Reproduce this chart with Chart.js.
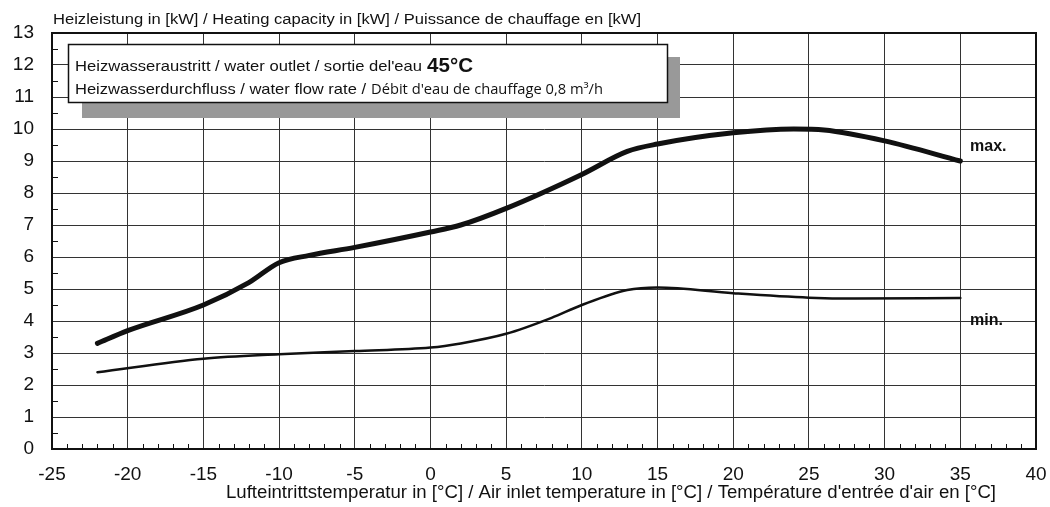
<!DOCTYPE html>
<html>
<head>
<meta charset="utf-8">
<script src="https://cdn.jsdelivr.net/npm/chart.js@4"></script>
<style>
  html, body { margin:0; padding:0; background:#fff; }
  #wrap { width:1050px; height:507px; }
</style>
</head>
<body>
<div id="wrap"><canvas id="chart" width="1050" height="507"></canvas></div>
<script>
const maxTemp = [-22, -20, -15, -12, -10, -8, -5, 0, 2, 5, 10, 13, 15, 20, 24, 26, 30, 35];
const maxKw   = [3.3, 3.7, 4.5, 5.2, 5.82, 6.05, 6.3, 6.78, 7.0, 7.52, 8.58, 9.3, 9.53, 9.88, 10.0, 9.97, 9.63, 9.0];
const minTemp = [-22, -15, -10, -5, 0, 2, 5, 8, 10, 13, 15, 20, 25, 28, 35];
const minKw   = [2.4, 2.82, 2.96, 3.06, 3.17, 3.3, 3.6, 4.1, 4.5, 4.97, 5.05, 4.87, 4.73, 4.7, 4.72];
const xTicks = [-25, -20, -15, -10, -5, 0, 5, 10, 15, 20, 25, 30, 35, 40];
const yTicks = [0, 1, 2, 3, 4, 5, 6, 7, 8, 9, 10, 11, 12, 13];

const FONT = '"Liberation Sans", Arial, sans-serif';
const HUMAN = '"Open Sans", "Noto Sans", sans-serif';

function pts(xs, ys){ return xs.map((x,i)=>({x, y: ys[i]})); }

// draw text squeezed/stretched horizontally so it spans x0..x1
function fitText(ctx, text, x0, x1, y){
  const w = ctx.measureText(text).width;
  ctx.save();
  ctx.translate(x0, y);
  ctx.scale((x1 - x0) / w, 1);
  ctx.textAlign = 'left';
  ctx.fillText(text, 0, 0);
  ctx.restore();
}

// extra drawing: minor ticks, frame, info box, titles, curve labels
const decorations = {
  id: 'decorations',
  afterDraw(chart){
    const ctx = chart.ctx;
    const xs = chart.scales.x, ys = chart.scales.y;
    const a = chart.chartArea;
    ctx.save();
    ctx.strokeStyle = '#111';
    ctx.lineWidth = 1;
    // minor ticks
    ctx.beginPath();
    for (let v = 0.5; v < 13; v += 1) {
      const py = Math.round(ys.getPixelForValue(v)) + 0.5;
      ctx.moveTo(a.left, py); ctx.lineTo(a.left + 6, py);
    }
    for (let v = -24; v < 40; v++) {
      if (v % 5 === 0) continue;
      const px = Math.round(xs.getPixelForValue(v)) + 0.5;
      ctx.moveTo(px, a.bottom); ctx.lineTo(px, a.bottom - 5);
    }
    ctx.stroke();
    // frame
    ctx.lineWidth = 2;
    ctx.strokeStyle = '#111';
    ctx.strokeRect(a.left, a.top, a.right - a.left, a.bottom - a.top);

    // info box with shadow
    ctx.fillStyle = '#999';
    ctx.fillRect(82, 57, 598, 61);
    ctx.fillStyle = '#fff';
    ctx.fillRect(68, 44, 600, 59);
    ctx.lineWidth = 1.5;
    ctx.strokeStyle = '#111';
    ctx.strokeRect(68.5, 44.5, 599, 58);

    ctx.fillStyle = '#111';
    ctx.textBaseline = 'alphabetic';
    ctx.font = '15px ' + FONT;
    fitText(ctx, 'Heizwasseraustritt / water outlet / sortie del\'eau', 75, 422, 71);
    ctx.font = 'bold 20px ' + FONT;
    fitText(ctx, '45°C', 427, 473, 72);
    ctx.font = '15px ' + FONT;
    fitText(ctx, 'Heizwasserdurchfluss / water flow rate /', 75, 366, 94);
    ctx.font = '14px ' + HUMAN;
    fitText(ctx, 'Débit d\'eau de chauffage 0,8 m³/h', 371, 603, 94);

    // axis titles
    ctx.font = '14px ' + FONT;
    fitText(ctx, 'Heizleistung in [kW] / Heating capacity in [kW] / Puissance de chauffage en [kW]', 53, 641, 24);
    ctx.font = '17.5px ' + FONT;
    fitText(ctx, 'Lufteintrittstemperatur in [°C] / Air inlet temperature in [°C] / Température d\'entrée d\'air en [°C]', 226, 996, 498);

    // curve labels
    ctx.font = 'bold 16px ' + FONT;
    ctx.textAlign = 'left';
    ctx.fillText('max.', 970, 151);
    ctx.fillText('min.', 970, 325);
    ctx.restore();
  }
};

const ctx = document.getElementById('chart').getContext('2d');
new Chart(ctx, {
  type: 'line',
  data: {
    datasets: [
      { label: 'max.', data: pts(maxTemp, maxKw), borderColor: '#111', borderWidth: 5,
        pointRadius: 0, cubicInterpolationMode: 'monotone', borderCapStyle: 'round', fill: false },
      { label: 'min.', data: pts(minTemp, minKw), borderColor: '#111', borderWidth: 2.5,
        pointRadius: 0, cubicInterpolationMode: 'monotone', borderCapStyle: 'round', fill: false }
    ]
  },
  options: {
    responsive: false,
    animation: false,
    layout: { padding: { left: 0, top: 33, right: 14, bottom: 0 } },
    plugins: { legend: { display: false }, tooltip: { enabled: false } },
    scales: {
      x: {
        type: 'linear', min: -25, max: 40,
        afterBuildTicks: s => { s.ticks = xTicks.map(v => ({ value: v })); },
        afterFit: s => { s.height = 58; s.paddingLeft = 0; s.paddingRight = 0; },
        grid: { color: '#333', lineWidth: 1, drawTicks: false },
        border: { color: '#111', width: 2 },
        ticks: { color: '#111', font: { family: FONT, size: 19 }, padding: 14, maxRotation: 0 }
      },
      y: {
        min: 0, max: 13,
        afterBuildTicks: s => { s.ticks = yTicks.map(v => ({ value: v })); },
        afterFit: s => { s.width = 52; s.paddingTop = 0; s.paddingBottom = 0; },
        grid: { color: '#333', lineWidth: 1, drawTicks: false },
        border: { color: '#111', width: 2 },
        ticks: { color: '#111', font: { family: FONT, size: 19 }, padding: 18 }
      }
    }
  },
  plugins: [decorations]
});
</script>
</body>
</html>
